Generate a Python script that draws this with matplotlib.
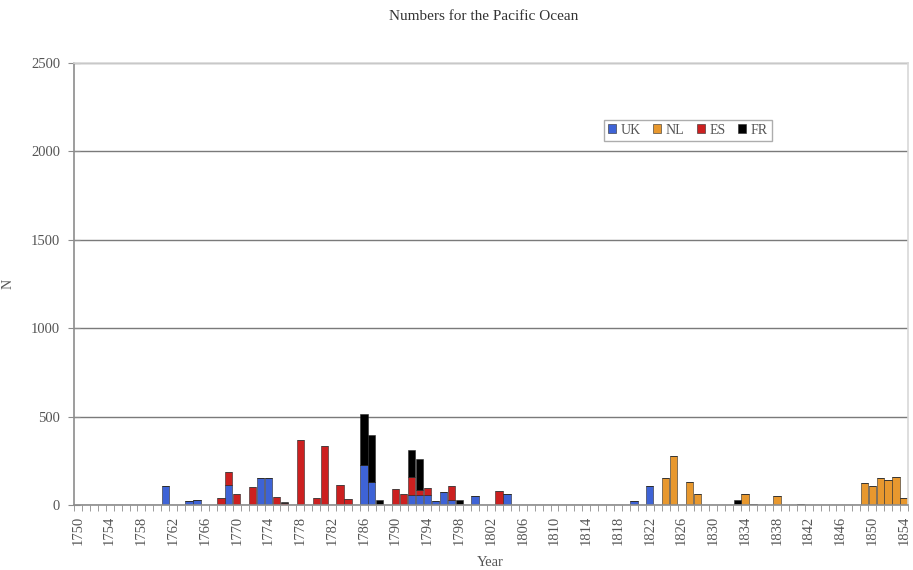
import numpy as np
import matplotlib.pyplot as plt

# categories
years = list(range(1750, 1855))

# non-zero entries per country (year -> count)
uk_years = [1761, 1764, 1765, 1769, 1773, 1774, 1786, 1787, 1788, 1792, 1793, 1794, 1795, 1796, 1797, 1800, 1804, 1820, 1822]
uk_vals = [105, 20, 27, 113, 155, 150, 225, 130, 5, 56, 56, 56, 22, 72, 30, 52, 62, 22, 110]

nl_years = [1824, 1825, 1827, 1828, 1833, 1834, 1838, 1849, 1850, 1851, 1852, 1853, 1854]
nl_vals = [155, 278, 130, 65, 5, 62, 52, 126, 106, 150, 140, 160, 38]

es_years = [1768, 1769, 1770, 1772, 1775, 1776, 1778, 1780, 1781, 1783, 1784, 1790, 1791, 1792, 1793, 1794, 1797, 1798, 1803]
es_vals = [38, 74, 62, 100, 45, 12, 365, 38, 333, 112, 35, 92, 60, 103, 28, 38, 77, 8, 78]

fr_years = [1776, 1786, 1787, 1788, 1792, 1793, 1798, 1833, 1835, 1841]
fr_vals = [5, 290, 267, 22, 150, 178, 20, 22, 8, 8]

series = [('UK', uk_years, uk_vals, '#3e63d6'),
          ('NL', nl_years, nl_vals, '#e8982e'),
          ('ES', es_years, es_vals, '#cc2020'),
          ('FR', fr_years, fr_vals, '#000000')]

plt.rcParams['font.family'] = ['Liberation Serif', 'DejaVu Serif']

fig = plt.figure(figsize=(9.13, 5.70), dpi=100)
ax = fig.add_axes([0.081, 0.114, 0.9135, 0.7755])

x = np.arange(len(years))
bottom = np.zeros(len(years))
for name, yrs, vals, col in series:
    v = np.zeros(len(years))
    for yr, val in zip(yrs, vals):
        v[years.index(yr)] = val
    ax.bar(x, v, width=0.92, bottom=bottom, color=col, edgecolor='#2a2a2a',
           linewidth=0.4, label=name)
    bottom += v

ax.set_xlim(-0.5, len(years) - 0.5)
ax.set_ylim(0, 2500)
ax.set_yticks(range(0, 2501, 500))
ax.yaxis.grid(True, color='#7a7a7a', linewidth=1.0)
ax.set_axisbelow(True)

ax.set_xticks(x[::4])
ax.set_xticklabels([str(y) for y in years[::4]], rotation=90, fontsize=10.5, color='#555555')
ax.set_xticks(np.arange(-0.5, len(years), 1), minor=True)
ax.tick_params(axis='x', which='major', length=0, pad=8)
ax.tick_params(axis='x', which='minor', length=4, color='#8c8c8c', direction='out')
ax.tick_params(axis='y', length=8, color='#8c8c8c', direction='inout', pad=6,
               labelsize=10.5, labelcolor='#555555')

for s in ['left', 'bottom']:
    ax.spines[s].set_color('#8c8c8c')
    ax.spines[s].set_linewidth(1.2)
for s in ['top', 'right']:
    ax.spines[s].set_color('#d8d8d8')
    ax.spines[s].set_linewidth(1.2)

fig.text(0.537, 1 - 563 / 570, 'Year', fontsize=10.5, color='#555555', ha='center', va='center')
ax.set_ylabel('N', fontsize=10, color='#555555', labelpad=12)
fig.suptitle('Numbers for the Pacific Ocean', fontsize=11, color='#333333', y=0.982, x=0.53)

leg = ax.legend(loc='center left', bbox_to_anchor=(0.627, 0.848), ncol=4, fontsize=10,
                frameon=True, fancybox=False, edgecolor='#999999', handlelength=0.6,
                handleheight=0.6, columnspacing=0.9, handletextpad=0.3, borderpad=0.3)
for t in leg.get_texts():
    t.set_color('#555555')

fig.savefig('out.png', dpi=100)
